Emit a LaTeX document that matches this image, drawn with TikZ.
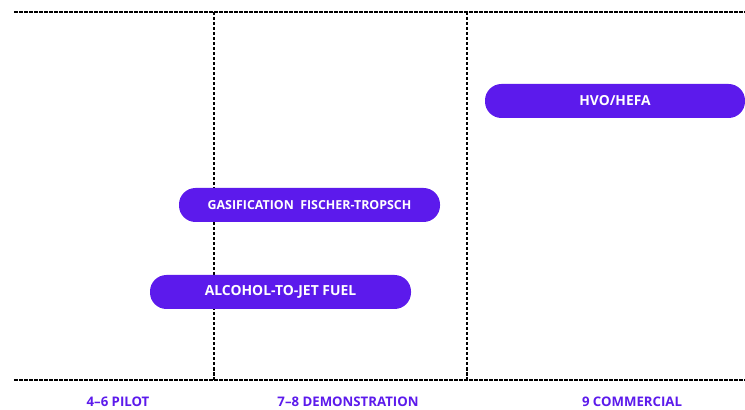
\documentclass[tikz,border=0pt]{standalone}
\usepackage{fontspec}
\setmainfont{Open Sans}
\tikzset{
  gridline/.style={draw=black,line width=1.4pt,dash pattern=on 3.5pt off 1.5pt},
  pill/.style={fill=barColor,text=white,rounded corners=16.5pt,minimum height=34pt,inner sep=0pt,font=\bfseries},
  stagelabel/.style={text=barColor,inner sep=0pt,font=\bfseries\fontsize{13.2}{15}\selectfont}
}
\begin{document}
\begin{tikzpicture}[x=1pt,y=1pt]
\definecolor{fillColor}{RGB}{255,255,255}
\definecolor{barColor}{RGB}{92,26,236}
\path[use as bounding box,fill=fillColor] (0,0) rectangle (745,410);

% frame lines
\path[gridline] ( 14,398) -- (745,398);
\path[gridline] ( 14, 30) -- (745, 30);
\path[gridline] (214,398) -- (214, 30);
\path[gridline] (467,398) -- (467, 30);

% technology bars
\node[pill,minimum width=260pt,font=\bfseries\fontsize{13.8}{15}\selectfont] (hvo) at (615,309) {HVO/HEFA};
\node[pill,minimum width=261pt,font=\bfseries\fontsize{12.4}{14}\selectfont] (gasft) at (309.5,205) {GASIFICATION\ \ FISCHER-TROPSCH};
\node[pill,minimum width=261pt,font=\bfseries\fontsize{13.9}{15}\selectfont] (atj) at (280.5,118) {ALCOHOL-TO-JET FUEL};

% readiness levels
\node[stagelabel] (pilot) at (118,8) {4--6 PILOT};
\node[stagelabel] (demo) at (348,8) {7--8 DEMONSTRATION};
\node[stagelabel] (comm) at (632,8) {9 COMMERCIAL};
\end{tikzpicture}
\end{document}
